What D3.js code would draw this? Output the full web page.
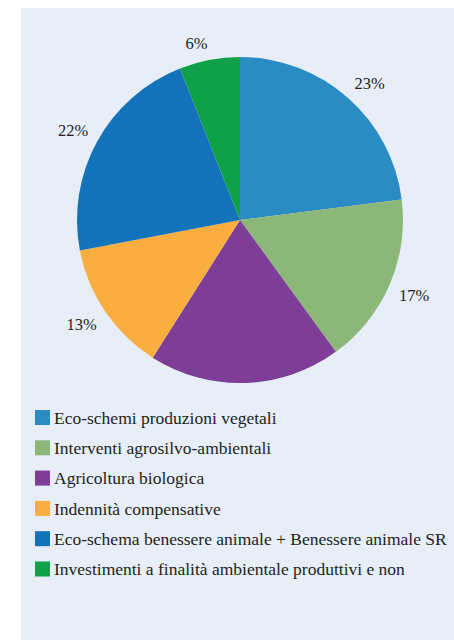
<!DOCTYPE html>
<html>
<head>
<meta charset="utf-8">
<script src="https://cdn.jsdelivr.net/npm/d3@7"></script>
<style>
  html, body { margin: 0; padding: 0; background: #fff; }
  svg { display: block; }
  text { font-family: "Liberation Serif", "DejaVu Serif", serif; fill: #231f20; }
</style>
</head>
<body>
<svg id="chart" width="454" height="640"></svg>
<script>
// Data
const categories = [
  "Eco-schemi produzioni vegetali",
  "Interventi agrosilvo-ambientali",
  "Agricoltura biologica",
  "Indennità compensative",
  "Eco-schema benessere animale + Benessere animale SR",
  "Investimenti a finalità ambientale produttivi e non"
];
const shares = [23, 17, 19, 13, 22, 6];
const sliceLabels = ["23%", "17%", "", "13%", "22%", "6%"];
const colors = ["#2b8bc3", "#8bb778", "#7e3d96", "#fbae40", "#1273ba", "#10a04a"];

const svg = d3.select("#chart");
const width = +svg.attr("width");
const height = +svg.attr("height");

// background panel
svg.append("rect")
  .attr("x", 21)
  .attr("y", 8)
  .attr("width", width - 21)
  .attr("height", height - 8)
  .attr("fill", "#e7eef7");

const cx = 240, cy = 220, radius = 163;
const labelGap = 10;

const pie = d3.pie().sort(null).value(d => d);
const arcs = pie(shares);

const arc = d3.arc().innerRadius(0).outerRadius(radius);

const g = svg.append("g")
  .attr("transform", `translate(${cx},${cy})`);

g.selectAll("path.slice")
  .data(arcs)
  .enter().append("path")
    .attr("class", "slice")
    .attr("d", arc)
    .attr("fill", (d, i) => colors[i]);

// Percent labels, placed "outside end": the label box corner nearest
// the centre sits just beyond the rim, along the slice's mid angle
g.selectAll("text.pct")
  .data(arcs)
  .enter().append("text")
    .attr("class", "pct")
    .attr("text-anchor", "middle")
    .attr("dy", "0.35em")
    .style("font-size", "16.5px")
    .text((d, i) => sliceLabels[i])
    .each(function(d) {
      const box = this.getBBox();
      const mid = (d.startAngle + d.endAngle) / 2;
      const ux = Math.sin(mid), uy = -Math.cos(mid);
      const r = radius + labelGap;
      const x = ux * r + Math.sign(ux) * box.width / 2;
      const y = uy * r + Math.sign(uy) * box.height * 0.35;
      d3.select(this).attr("transform", `translate(${x},${y})`);
    });

// Legend
const legendY = d3.scalePoint()
  .domain(categories)
  .range([417.5, 569]);

const legend = svg.append("g").attr("class", "legend");

const item = legend.selectAll("g")
  .data(categories)
  .enter().append("g")
    .attr("transform", d => `translate(35,${legendY(d)})`);

item.append("rect")
  .attr("x", 0)
  .attr("y", -7.5)
  .attr("width", 15)
  .attr("height", 15)
  .attr("fill", (d, i) => colors[i]);

item.append("text")
  .attr("x", 19)
  .attr("y", 0)
  .attr("dy", "0.35em")
  .style("font-size", "17.5px")
  .text(d => d);
</script>
</body>
</html>
